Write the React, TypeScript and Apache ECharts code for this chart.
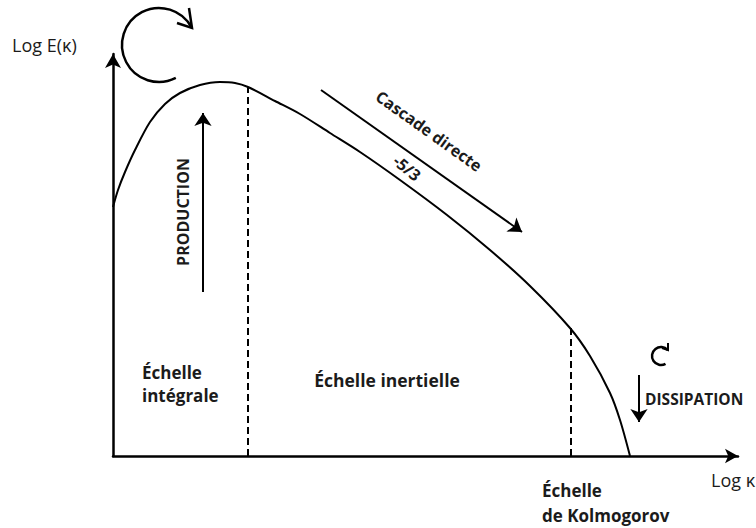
import React, { useEffect, useRef } from "react";
import * as echarts from "echarts";

// Energy spectrum (schematic): log k vs log E(k)
const curveKappa = [0, 5, 12, 22, 37, 52, 67, 87, 107, 122, 135, 162, 187, 217, 247, 287, 334, 377, 417, 457, 477, 497, 507, 517];
const curveEnergy = [249, 266, 284, 306, 334, 352, 363, 371, 374, 373, 369, 355, 342, 323, 304, 276, 241, 206, 170, 128, 100, 63, 36, 0];

// Scale boundaries (dashed lines) and their heights (where they meet the curve)
const boundaryKappa = [135, 458];
const boundaryTop = [369, 128];

// Arrows [from, to]
const cascadeArrow = [[208, 366], [409, 224]];
const productionArrow = [[90, 164], [90, 343]];
const dissipationArrow = [[526, 81], [526, 34]];

const FONT = "'Open Sans', 'Noto Sans', sans-serif";
const INK = "#1b1b1b";

function txt(text: string, x: number, y: number, opts: any = {}) {
  return {
    type: "text",
    x,
    y,
    rotation: opts.rotation || 0,
    style: {
      text,
      fill: INK,
      fontFamily: FONT,
      fontSize: opts.size || 17,
      fontWeight: opts.weight || "bold",
      align: opts.align || "left",
      textAlign: opts.align || "left",
      verticalAlign: "middle",
      textVerticalAlign: "middle",
      lineHeight: opts.lineHeight || 24,
    },
  };
}

export default function App() {
  const ref = useRef<HTMLDivElement>(null);
  useEffect(() => {
    if (!ref.current) return;
    const chart = echarts.init(ref.current, undefined, { renderer: "svg" });
    const arrowSeries = (coords: number[][]) => ({
      type: "lines",
      coordinateSystem: "cartesian2d",
      symbol: ["none", "arrow"],
      symbolSize: 13,
      lineStyle: { color: "#000", width: 2, opacity: 1, curveness: 0 },
      data: [{ coords }],
      silent: true,
      z: 3,
    });
    const boundarySeries = (i: number) => ({
      type: "line",
      data: [[boundaryKappa[i], 0], [boundaryKappa[i], boundaryTop[i]]],
      symbol: "none",
      lineStyle: { color: "#000", width: 2, type: [7, 4] },
      silent: true,
      z: 2,
    });
    chart.setOption({
      animation: false,
      backgroundColor: "#fff",
      grid: { left: 113, top: 54, width: 625, height: 402 },
      xAxis: {
        type: "value",
        min: 0,
        max: 625,
        axisLine: {
          show: true,
          onZero: false,
          symbol: ["none", "arrow"],
          symbolSize: [11, 13],
          lineStyle: { color: "#000", width: 2.5 },
        },
        axisTick: { show: false },
        axisLabel: { show: false },
        splitLine: { show: false },
      },
      yAxis: {
        type: "value",
        min: 0,
        max: 402,
        axisLine: {
          show: true,
          onZero: false,
          symbol: ["none", "arrow"],
          symbolSize: [12, 14],
          lineStyle: { color: "#000", width: 2.5 },
        },
        axisTick: { show: false },
        axisLabel: { show: false },
        splitLine: { show: false },
      },
      series: [
        {
          type: "line",
          data: curveKappa.map((k, i) => [k, curveEnergy[i]]),
          smooth: 0.3,
          symbol: "none",
          lineStyle: { color: "#000", width: 2 },
          z: 4,
        },
        boundarySeries(0),
        boundarySeries(1),
        arrowSeries(cascadeArrow),
        arrowSeries(productionArrow),
        arrowSeries(dissipationArrow),
      ],
      graphic: [
        txt("Log E(κ)", 12, 45, { size: 18, weight: "normal" }),
        txt("Log κ", 711, 480, { size: 18, weight: "normal" }),
        txt("Cascade directe", 429, 131, { rotation: -0.62, align: "center", size: 16 }),
        txt("-5/3", 407, 168, { rotation: -0.7, align: "center", size: 16 }),
        txt("PRODUCTION", 183, 212, { rotation: Math.PI / 2, align: "center", size: 16 }),
        txt("Échelle\nintégrale", 142, 384, { lineHeight: 23 }),
        txt("Échelle inertielle", 387, 380, { align: "center", size: 17.5 }),
        txt("Échelle\nde Kolmogorov", 542, 503, { lineHeight: 25 }),
        txt("DISSIPATION", 645, 399, { size: 15.5 }),
        {
          type: "arc",
          shape: { cx: 159, cy: 45, r: 37, startAngle: (63 * Math.PI) / 180, endAngle: (332 * Math.PI) / 180, clockwise: true },
          style: { stroke: "#000", lineWidth: 2.5, fill: "none" },
        },
        {
          type: "polyline",
          shape: { points: [[189, 8], [192, 28], [177, 23]] },
          style: { stroke: "#000", lineWidth: 2.5, fill: "none" },
        },
        {
          type: "arc",
          shape: { cx: 661, cy: 356, r: 9, startAngle: (60 * Math.PI) / 180, endAngle: (318 * Math.PI) / 180, clockwise: true },
          style: { stroke: "#000", lineWidth: 2.5, fill: "none" },
        },
        {
          type: "polyline",
          shape: { points: [[668, 343], [668, 350], [662, 348]] },
          style: { stroke: "#000", lineWidth: 2, fill: "none" },
        },
      ],
    });
    return () => chart.dispose();
  }, []);
  return <div ref={ref} style={{ position: "absolute", left: 0, top: 0, width: 756, height: 528 }} />;
}
